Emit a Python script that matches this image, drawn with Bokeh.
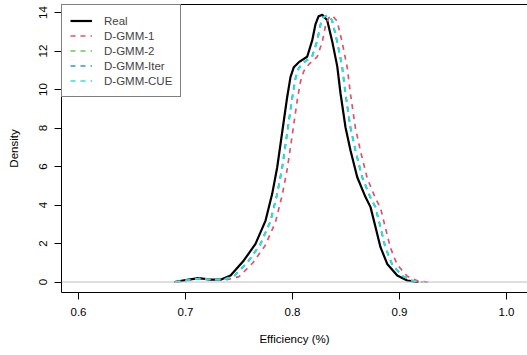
from bokeh.plotting import figure
from bokeh.models import Range1d, FixedTicker, LinearAxis, Legend, LegendItem, Span
from bokeh.embed import file_html
from bokeh.resources import INLINE

# ---- data ----
x_ticks = [0.6, 0.7, 0.8, 0.9, 1.0]
x_tick_labels = ["0.6", "0.7", "0.8", "0.9", "1.0"]
y_ticks = [0, 2, 4, 6, 8, 10, 12, 14]
y_tick_labels = ["0", "2", "4", "6", "8", "10", "12", "14"]

series_names = ["Real", "D-GMM-1", "D-GMM-2", "D-GMM-Iter", "D-GMM-CUE"]

real_x = [0.6897, 0.7000, 0.7121, 0.7234, 0.7327, 0.7421, 0.7545, 0.7654, 0.7748, 0.7810,
          0.7857, 0.7888, 0.7919, 0.7950, 0.7981, 0.8012, 0.8059, 0.8137, 0.8184, 0.8215,
          0.8243, 0.8278, 0.8324, 0.8371, 0.8418, 0.8449, 0.8495, 0.8542, 0.8605, 0.8682,
          0.8729, 0.8776, 0.8822, 0.8885, 0.8979, 0.9072, 0.9159, 0.9178]
real_y = [0.0, 0.10, 0.20, 0.12, 0.12, 0.34, 1.12, 1.98, 3.19, 4.58,
          5.96, 7.18, 8.39, 9.60, 10.64, 11.16, 11.42, 11.70, 12.55, 13.40,
          13.80, 13.88, 13.60, 12.50, 11.20, 9.78, 8.04, 6.83, 5.44, 4.41,
          3.89, 2.85, 1.81, 0.94, 0.34, 0.08, 0.01, 0.0]

gmm1_x = [0.6915, 0.7025, 0.7160, 0.7280, 0.7385, 0.7500, 0.7630, 0.7745, 0.7840, 0.7903,
          0.7950, 0.7981, 0.8012, 0.8043, 0.8074, 0.8105, 0.8152, 0.8230, 0.8277, 0.8308,
          0.8336, 0.8371, 0.8417, 0.8464, 0.8511, 0.8542, 0.8588, 0.8635, 0.8698, 0.8775,
          0.8822, 0.8869, 0.8915, 0.8978, 0.9072, 0.9165, 0.9245, 0.9265]
gmm1_y = [0.0, 0.08, 0.17, 0.12, 0.12, 0.28, 1.00, 1.90, 3.10, 4.50,
          5.85, 7.00, 8.20, 9.40, 10.40, 10.95, 11.30, 11.70, 12.45, 13.30,
          13.70, 13.85, 13.55, 12.45, 11.15, 9.75, 8.00, 6.80, 5.40, 4.35,
          3.85, 2.80, 1.78, 0.90, 0.30, 0.07, 0.01, 0.0]

gmm2_x = [0.6903, 0.7008, 0.7133, 0.7248, 0.7348, 0.7452, 0.7582, 0.7697, 0.7792, 0.7854,
          0.7901, 0.7932, 0.7963, 0.7994, 0.8025, 0.8056, 0.8103, 0.8181, 0.8228, 0.8259,
          0.8287, 0.8322, 0.8368, 0.8415, 0.8462, 0.8493, 0.8539, 0.8586, 0.8649, 0.8726,
          0.8773, 0.8820, 0.8866, 0.8929, 0.9023, 0.9116, 0.9197, 0.9212]
gmm2_y = [0.0, 0.09, 0.18, 0.12, 0.12, 0.30, 1.06, 1.96, 3.16, 4.56,
          5.91, 7.11, 8.31, 9.51, 10.56, 11.11, 11.41, 11.70, 12.51, 13.36,
          13.76, 13.85, 13.60, 12.50, 11.20, 9.80, 8.05, 6.85, 5.45, 4.40,
          3.90, 2.85, 1.80, 0.92, 0.32, 0.08, 0.01, 0.0]

iter_x = [0.6904, 0.7009, 0.7134, 0.7249, 0.7349, 0.7454, 0.7584, 0.7699, 0.7794, 0.7856,
          0.7903, 0.7934, 0.7965, 0.7996, 0.8027, 0.8058, 0.8105, 0.8183, 0.8230, 0.8261,
          0.8289, 0.8324, 0.8370, 0.8417, 0.8464, 0.8495, 0.8541, 0.8588, 0.8651, 0.8728,
          0.8775, 0.8822, 0.8868, 0.8931, 0.9025, 0.9118, 0.9199, 0.9214]
iter_y = [0.0, 0.09, 0.18, 0.12, 0.12, 0.30, 1.05, 1.95, 3.15, 4.55,
          5.90, 7.10, 8.30, 9.50, 10.55, 11.10, 11.40, 11.70, 12.50, 13.35,
          13.75, 13.85, 13.60, 12.50, 11.20, 9.80, 8.05, 6.85, 5.45, 4.40,
          3.90, 2.85, 1.80, 0.92, 0.32, 0.08, 0.01, 0.0]

cue_x = [0.6905, 0.7010, 0.7135, 0.7250, 0.7350, 0.7455, 0.7585, 0.7700, 0.7795, 0.7857,
         0.7904, 0.7935, 0.7966, 0.7997, 0.8028, 0.8059, 0.8106, 0.8184, 0.8231, 0.8262,
         0.8290, 0.8325, 0.8371, 0.8418, 0.8465, 0.8496, 0.8542, 0.8589, 0.8652, 0.8729,
         0.8776, 0.8823, 0.8869, 0.8932, 0.9026, 0.9119, 0.9200, 0.9215]
cue_y = [0.0, 0.09, 0.18, 0.12, 0.12, 0.30, 1.05, 1.95, 3.15, 4.55,
         5.90, 7.10, 8.30, 9.50, 10.55, 11.10, 11.40, 11.70, 12.50, 13.35,
         13.75, 13.85, 13.60, 12.50, 11.20, 9.80, 8.05, 6.85, 5.45, 4.40,
         3.90, 2.85, 1.80, 0.92, 0.32, 0.08, 0.01, 0.0]

colors = ["#000000", "#DF536B", "#61D04F", "#2297E6", "#28E2E5"]

FONT = "Liberation Sans"
FS = "11.5px"

p = figure(width=527, height=355, output_backend="svg", toolbar_location=None,
           x_range=Range1d(0.5841, 1.0196), y_range=Range1d(-0.545, 14.416),
           min_border_left=61, min_border_right=0, min_border_top=4, min_border_bottom=63)
p.background_fill_color = "white"
p.border_fill_color = "white"
p.outline_line_color = None
p.xgrid.grid_line_color = None
p.ygrid.grid_line_color = None

# horizontal reference line at 0
p.add_layout(Span(location=0, dimension="width", line_color="#BEBEBE", line_width=1))

# axes
xa = p.xaxis[0]
xa.ticker = FixedTicker(ticks=x_ticks)
xa.major_label_overrides = {t: l for t, l in zip(x_ticks, x_tick_labels)}
xa.axis_label = "Efficiency (%)"
ya = p.yaxis[0]
ya.ticker = FixedTicker(ticks=y_ticks)
ya.major_label_overrides = {t: l for t, l in zip(y_ticks, y_tick_labels)}
ya.axis_label = "Density"
ya.major_label_orientation = "vertical"

for ax in (xa, ya):
    ax.minor_tick_line_color = None
    ax.major_tick_in = 0
    ax.major_tick_out = 7
    ax.major_tick_line_color = "#000000"
    ax.axis_line_color = "#000000"
    ax.axis_line_width = 1
    ax.major_label_text_font = FONT
    ax.major_label_text_font_size = FS
    ax.major_label_text_color = "#000000"
    ax.axis_label_text_font = FONT
    ax.axis_label_text_font_size = FS
    ax.axis_label_text_font_style = "normal"
    ax.axis_label_text_color = "#000000"
xa.major_label_standoff = 8
xa.axis_label_standoff = 14
ya.major_label_standoff = 7
ya.axis_label_standoff = 17

# top frame line
top = LinearAxis(ticker=FixedTicker(ticks=[]), major_tick_out=0, major_tick_in=0,
                 major_label_standoff=0, minor_tick_line_color=None,
                 major_label_text_font_size="0px", axis_line_color="#000000")
p.add_layout(top, "above")

xs = [real_x, gmm1_x, gmm2_x, iter_x, cue_x]
ys = [real_y, gmm1_y, gmm2_y, iter_y, cue_y]
items = []
for i, (name, xx, yy, c) in enumerate(zip(series_names, xs, ys, colors)):
    if i == 0:
        r = p.line(xx, yy, line_color=c, line_width=2.2, line_join="round")
    else:
        r = p.line(xx, yy, line_color=c, line_width=1.7, line_dash="5 5")
    items.append(LegendItem(label=name, renderers=[r]))

legend = Legend(items=items, location="top_left", margin=0, padding=8, spacing=0,
                glyph_width=22, glyph_height=15, label_height=15, label_standoff=12,
                label_text_font=FONT, label_text_font_size=FS,
                border_line_color="#000000", border_line_width=1,
                background_fill_color="white", background_fill_alpha=1.0)
p.add_layout(legend, "center")

open("out.html", "w").write(file_html(p, INLINE))
